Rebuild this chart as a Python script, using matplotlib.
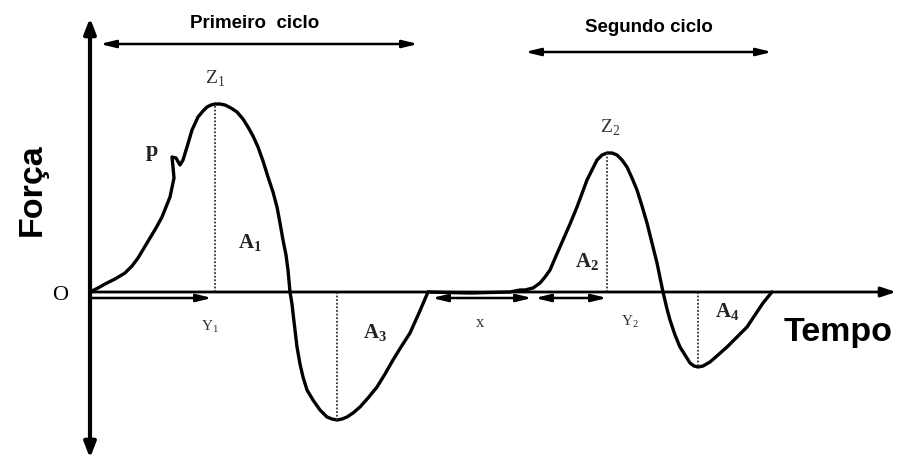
import matplotlib
matplotlib.use("Agg")
import matplotlib.pyplot as plt

# curve (time, force), origin at the axes crossing
t1 = [0, 8, 15, 25, 35, 42, 48, 54, 60, 66, 72, 80, 84, 83, 82, 86, 90, 93, 97, 102,
      108, 113, 117, 121, 125, 130, 135, 141, 147, 153, 158, 163, 168, 173, 178, 183, 187, 190, 193, 196,
      198, 200, 202, 203, 205, 207, 210, 213, 217, 223, 230, 237, 242, 247, 252, 257, 263, 270, 278, 287,
      295, 303, 311, 320, 329, 338]
f1 = [0, 4, 8, 13, 19, 26, 34, 44, 54, 64, 75, 95, 114, 125, 135, 134, 127, 132, 145, 162,
      175, 181, 185, 187, 188, 188, 187, 184, 180, 173, 165, 156, 145, 131, 115, 100, 85, 69, 52, 37,
      22, 0, -12, -21, -38, -55, -72, -85, -98, -108, -118, -125, -127, -128, -127, -125, -121, -115, -106, -95,
      -82, -68, -55, -41, -21, 0]
t2 = [338, 380, 420, 430, 435, 443, 450, 455, 460, 466, 473, 480, 487, 497, 502, 507, 512, 517, 522, 527,
      532, 537, 542, 547, 552, 557, 562, 567, 573, 577, 580, 585, 590, 595, 600, 604, 608, 613, 620, 628,
      637, 647, 657, 665, 673, 682]
f2 = [0, -1, 0, 2, 2, 4, 9, 15, 22, 36, 52, 68, 85, 112, 122, 132, 137, 139, 139, 137,
      132, 125, 114, 102, 86, 69, 49, 29, 0, -17, -28, -43, -55, -63, -71, -74, -75, -74, -70, -63,
      -55, -45, -35, -23, -11, 0]

plt.rcParams['mathtext.fontset'] = 'custom'
plt.rcParams['mathtext.rm'] = 'Liberation Serif'
plt.rcParams['mathtext.bf'] = 'Liberation Serif:bold'

fig = plt.figure(figsize=(8.97, 4.63), dpi=100)
ax = fig.add_axes([0, 0, 1, 1])
ax.set_xlim(-90, 807)
ax.set_ylim(-171, 292)
ax.axis("off")

# axes with arrows
ax.annotate("", xy=(0, 274), xytext=(0, -166),
            arrowprops=dict(arrowstyle="<|-|>,head_width=0.35,head_length=0.9", color="black", lw=3, shrinkA=0, shrinkB=0))
ax.annotate("", xy=(806, 0), xytext=(0, 0),
            arrowprops=dict(arrowstyle="-|>,head_width=0.3,head_length=0.9", color="black", lw=2, shrinkA=0, shrinkB=0))

# curve
ax.plot(t1, f1, color="black", lw=2.4, solid_joinstyle="round", solid_capstyle="round")
ax.plot(t2, f2, color="black", lw=2.4, solid_joinstyle="round", solid_capstyle="round")

# dotted lines at peaks and troughs
i1, i3 = f1.index(max(f1)), f1.index(min(f1))
i2, i4 = f2.index(max(f2)), f2.index(min(f2))
for tt, ff in [(t1[i1], f1[i1]), (t1[i3], f1[i3]), (t2[i2], f2[i2]), (t2[i4], f2[i4])]:
    ax.plot([tt, tt], [0, ff], color="#333333", lw=1.3, ls=(0, (1, 1)))

dbl = dict(arrowstyle="<|-|>,head_width=0.22,head_length=0.9", color="black", lw=1.8, shrinkA=0, shrinkB=0)
one = dict(arrowstyle="-|>,head_width=0.22,head_length=0.9", color="black", lw=1.8, shrinkA=0, shrinkB=0)

# cycle arrows
ax.annotate("", xy=(328, 248), xytext=(10, 248), arrowprops=dbl)
ax.annotate("", xy=(682, 240), xytext=(435, 240), arrowprops=dbl)
ax.text(165, 269, "Primeiro  ciclo", family="Liberation Sans", weight="bold", fontsize=13.5,
        ha="center", va="center")
ax.text(559, 264, "Segundo ciclo", family="Liberation Sans", weight="bold", fontsize=13.5,
        ha="center", va="center")

# lower arrows
ax.annotate("", xy=(122, -6), xytext=(0, -6), arrowprops=one)
ax.annotate("", xy=(442, -6), xytext=(342, -6), arrowprops=dbl)
ax.annotate("", xy=(517, -6), xytext=(445, -6), arrowprops=dbl)

# labels
gray = "#333333"
ax.text(120, -35, r"$\mathrm{Y}_{1}$", fontsize=11, color=gray, ha="center", va="center")
ax.text(390, -30, r"$\mathrm{x}$", fontsize=12, color=gray, ha="center", va="center")
ax.text(540, -30, r"$\mathrm{Y}_{2}$", fontsize=11, color=gray, ha="center", va="center")
ax.text(125, 213, r"$\mathrm{Z}_{1}$", fontsize=14, color=gray, ha="center", va="center")
ax.text(520, 164, r"$\mathrm{Z}_{2}$", fontsize=14, color=gray, ha="center", va="center")
ax.text(62, 141, "p", family="Liberation Serif", weight="bold", fontsize=16, color="#222222",
        ha="center", va="center")
ax.text(160, 49, r"$\mathbf{A}_{\mathbf{1}}$", fontsize=15, color="#222222", ha="center", va="center")
ax.text(285, -41, r"$\mathbf{A}_{\mathbf{3}}$", fontsize=15, color="#222222", ha="center", va="center")
ax.text(497, 30, r"$\mathbf{A}_{\mathbf{2}}$", fontsize=15, color="#222222", ha="center", va="center")
ax.text(637, -20, r"$\mathbf{A}_{\mathbf{4}}$", fontsize=15, color="#222222", ha="center", va="center")
ax.text(-30, -4, "O", family="Liberation Serif", fontsize=16, ha="center", va="center")

ax.text(-58, 102, "Força", family="Liberation Sans", weight="bold", fontsize=24.5,
        rotation=90, ha="center", va="center")
ax.text(748, -41, "Tempo", family="Liberation Sans", weight="bold", fontsize=24.5,
        ha="center", va="center")

fig.savefig("out.png", dpi=100)
